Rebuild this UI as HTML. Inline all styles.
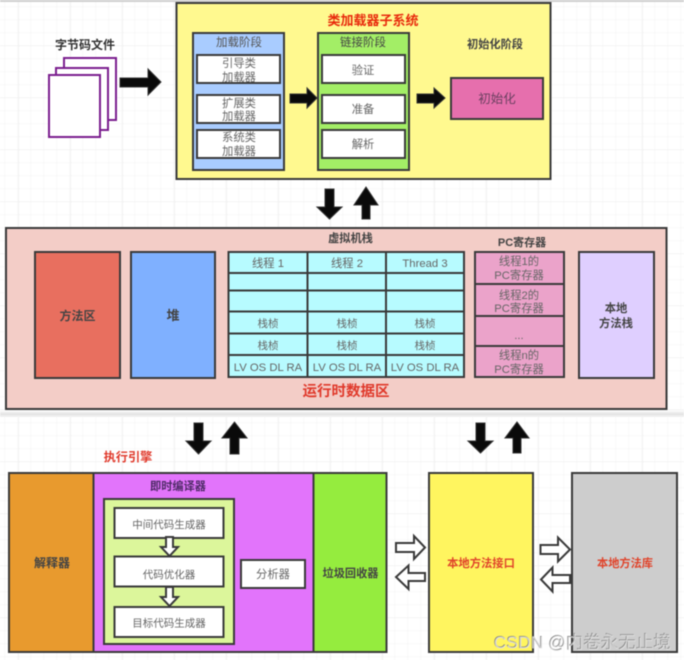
<!DOCTYPE html>
<html lang="zh">
<head>
<meta charset="utf-8">
<title>JVM</title>
<style>
html,body{margin:0;padding:0;background:#fff;width:684px;height:660px;overflow:hidden}
svg{display:block;filter:blur(.4px)}
text{font-family:"Liberation Sans","Noto Sans CJK SC",sans-serif;text-anchor:middle}
.box{stroke:#3a3a3a;stroke-width:2}
.t{font-size:11.3px;fill:#666}
.s{font-size:10.5px;fill:#666}
.l{font-size:11.3px;fill:#666}
.b{font-size:12px;font-weight:700;fill:#444}
.r{font-size:12px;font-weight:700;fill:#e0392b}
.hb{fill:#0a0a0a;stroke:#333;stroke-width:1}
.wa{fill:#fff;stroke:#3a3a3a;stroke-width:2}
</style>
</head>
<body>
<svg width="684" height="660" viewBox="0 0 684 660" xmlns="http://www.w3.org/2000/svg">
<defs>
<pattern id="g" width="13" height="13" patternUnits="userSpaceOnUse" x="5" y="7">
<path d="M13 0V13M0 13H13" stroke="#f3f3f3" stroke-width="1" fill="none"/>
</pattern>
<pattern id="G" width="52" height="52" patternUnits="userSpaceOnUse" x="19" y="46">
<path d="M52 0V52M0 52H52" stroke="#ebebeb" stroke-width="1" fill="none"/>
</pattern>
<linearGradient id="sh" x1="0" y1="0" x2="0" y2="1">
<stop offset="0" stop-color="#fff"/>
<stop offset=".6" stop-color="#e4e4e4"/>
<stop offset="1" stop-color="#f4f4f4"/>
</linearGradient>
</defs>
<rect width="684" height="660" fill="#fff"/>
<rect width="684" height="660" fill="url(#g)"/>
<rect width="684" height="660" fill="url(#G)"/>
<rect x="0" y="0" width="684" height="2" fill="#cfcfcf"/>
<rect x="0" y="410" width="684" height="7" fill="url(#sh)"/>

<!-- bytecode files -->
<text x="85" y="49" class="b" style="fill:#333">字节码文件</text>
<rect x="64" y="58" width="52" height="62" fill="#fff" stroke="#7b1e8e" stroke-width="2"/>
<rect x="56" y="68" width="52" height="62" fill="#fff" stroke="#7b1e8e" stroke-width="2"/>
<rect x="49" y="75" width="51" height="62" fill="#fff" stroke="#7b1e8e" stroke-width="2"/>
<polygon class="hb" points="120,78 148,78 148,69 161,82 148,95 148,87 120,87"/>

<!-- class loader subsystem -->
<rect class="box" x="176.500" y="3" width="374" height="176" fill="#fff98f"/>
<text x="373" y="25" class="r" style="fill:#e82a0c;font-size:13px">类加载器子系统</text>

<rect class="box" x="193" y="33" width="91" height="137" fill="#a9ccff"/>
<text x="239" y="46" class="l" style="fill:#555;font-size:11.5px">加载阶段</text>
<rect class="box" x="197" y="55" width="83" height="28" fill="#fff"/>
<text x="239" y="67" class="t">引导类</text><text x="239" y="81" class="t">加载器</text>
<rect class="box" x="197" y="95" width="83" height="28" fill="#fff"/>
<text x="239" y="107" class="t">扩展类</text><text x="239" y="120" class="t">加载器</text>
<rect class="box" x="197" y="130" width="83" height="28" fill="#fff"/>
<text x="239" y="141" class="t">系统类</text><text x="239" y="155" class="t">加载器</text>

<polygon class="hb" points="290,94 307,94 307,88 317,98 307,108 307,103 290,103"/>

<rect class="box" x="318" y="33" width="91" height="137" fill="#a3ee66"/>
<text x="363" y="46" class="l" style="fill:#444;font-size:11.5px">链接阶段</text>
<rect class="box" x="322" y="55" width="83" height="28" fill="#fff"/>
<text x="363" y="74" class="t">验证</text>
<rect class="box" x="322" y="95" width="83" height="28" fill="#fff"/>
<text x="363" y="113" class="t">准备</text>
<rect class="box" x="322" y="130" width="83" height="28" fill="#fff"/>
<text x="363" y="148" class="t">解析</text>

<polygon class="hb" points="417,94 434,94 434,88 445,98 434,108 434,103 417,103"/>

<text x="495" y="48" class="l" style="fill:#444;font-weight:700;font-size:11.2px">初始化阶段</text>
<rect class="box" x="451" y="78" width="92" height="41" fill="#e66fad"/>
<text x="497" y="103" class="l" style="fill:#6a4060;font-size:12.5px">初始化</text>

<!-- arrows top -->
<polygon class="hb" points="325,189 334,189 334,207 342,207 329.500,219 317,207 325,207"/>
<polygon class="hb" points="362,219 370,219 370,205 378,205 366,187 354,205 362,205"/>

<!-- runtime data area -->
<rect class="box" x="6" y="228" width="660.500" height="181" fill="#f3cdc7"/>
<rect class="box" x="35" y="252" width="85" height="126" fill="#e86f5f"/>
<text x="77.500" y="320" class="b">方法区</text>
<rect class="box" x="131" y="252" width="84" height="126" fill="#7fb0ff"/>
<text x="173" y="320" class="b" style="font-size:13px">堆</text>

<text x="350.500" y="242" class="l" style="font-size:11.2px;font-weight:700;fill:#444">虚拟机栈</text>

<rect class="box" x="228.500" y="252" width="235.500" height="125" fill="#b7fbff"/>
<path d="M307.500 252V377M386 252V377M228.500 273H464M228.500 290.500H464M228.500 311.500H464M228.500 333.500H464M228.500 355H464" stroke="#3a3a3a" stroke-width="2" fill="none"/>
<text x="268" y="267" class="l">线程 1</text>
<text x="347" y="267" class="l">线程 2</text>
<text x="425" y="267" class="l">Thread 3</text>
<text x="268" y="327" class="s">栈桢</text><text x="347" y="327" class="s">栈桢</text><text x="425" y="327" class="s">栈桢</text>
<text x="268" y="349" class="s">栈桢</text><text x="347" y="349" class="s">栈桢</text><text x="425" y="349" class="s">栈桢</text>
<text x="268" y="371" class="l">LV OS DL RA</text>
<text x="347" y="371" class="l">LV OS DL RA</text>
<text x="425" y="371" class="l">LV OS DL RA</text>

<text x="522" y="246" class="l" style="font-size:11px;font-weight:700;fill:#444">PC寄存器</text>
<rect class="box" x="475" y="252" width="89" height="125" fill="#eba3ca"/>
<path d="M475 284H564M475 316H564M475 346H564" stroke="#3a3a3a" stroke-width="2" fill="none"/>
<text x="519" y="265" class="t">线程1的</text><text x="519" y="279" class="t">PC寄存器</text>
<text x="519" y="299" class="t">线程2的</text><text x="519" y="312" class="t">PC寄存器</text>
<text x="519" y="339" class="t">...</text>
<text x="519" y="359" class="t">线程n的</text><text x="519" y="373" class="t">PC寄存器</text>

<rect class="box" x="579" y="252" width="75" height="126" fill="#dfcfff"/>
<text x="616" y="312" class="l" style="font-weight:700;font-size:11.300px;fill:#444">本地</text>
<text x="616" y="327" class="l" style="font-weight:700;font-size:11.300px;fill:#444">方法栈</text>

<text x="346" y="396" class="r" style="font-size:14.500px">运行时数据区</text>

<!-- arrows middle -->
<polygon class="hb" points="194,423 203,423 203,441 211,441 198.500,454 186,441 194,441"/>
<polygon class="hb" points="230,454 239,454 239,438 247,438 234.500,422 222,438 230,438"/>
<polygon class="hb" points="476,423 485,423 485,441 493,441 480.500,453 468,441 476,441"/>
<polygon class="hb" points="513,453 521,453 521,438 529,438 517,422 505,438 513,438"/>

<text x="128" y="461" class="r" style="font-size:12.200px">执行引擎</text>

<!-- execution engine -->
<rect class="box" x="9" y="473" width="84.500" height="179" fill="#e89a2e"/>
<text x="52" y="567" class="b" style="fill:#444">解释器</text>
<rect class="box" x="93.500" y="473" width="220" height="179" fill="#e274fb"/>
<text x="178" y="490" class="l" style="fill:#4d2a66;font-weight:700;font-size:11.2px">即时编译器</text>
<rect class="box" x="104" y="499" width="130" height="145" fill="#dcf69b"/>
<rect class="box" x="114.500" y="508" width="109" height="30" fill="#fff"/>
<text x="169" y="528" class="s">中间代码生成器</text>
<rect class="box" x="114.500" y="556.500" width="109" height="30" fill="#fff"/>
<text x="169" y="578" class="s">代码优化器</text>
<rect class="box" x="114.500" y="607" width="109" height="30" fill="#fff"/>
<text x="169" y="626.500" class="s">目标代码生成器</text>
<polygon class="wa" points="166,537 173,537 173,547 178,547 169.500,556 161,547 166,547"/>
<polygon class="wa" points="166,587 173,587 173,597 178,597 169.500,606 161,597 166,597"/>
<rect class="box" x="241" y="560" width="64" height="28" fill="#fff"/>
<text x="273" y="578" class="l">分析器</text>
<rect class="box" x="313.500" y="473" width="73" height="179" fill="#95ec3e"/>
<text x="350.500" y="577" class="l" style="fill:#444;font-weight:700;font-size:11.2px">垃圾回收器</text>

<!-- white side arrows -->
<polygon class="wa" points="396,543 414,543 414,536 425,547.500 414,559 414,552 396,552"/>
<polygon class="wa" points="425,573 408.500,573 408.500,565.500 396,577 408.500,589 408.500,581 425,581"/>
<polygon class="wa" points="540.500,545 558,545 558,537.500 570,549.500 558,561.500 558,554 540.500,554"/>
<polygon class="wa" points="570,575 552.500,575 552.500,567.500 541,579.500 552.500,591.500 552.500,583 570,583"/>

<rect class="box" x="429" y="473" width="104" height="179" fill="#fff55f"/>
<text x="481" y="567" class="r" style="font-size:11.300px;fill:#e0432a">本地方法接口</text>
<rect class="box" x="572" y="473" width="105" height="179" fill="#cdcdcd"/>
<text x="625" y="567" class="r" style="font-size:11.200px;fill:#e0432a">本地方法库</text>

<!-- watermark -->
<text x="582" y="648" style="font-size:17.500px;fill:#6f6f6f">CSDN @内卷永无止境</text>
<text x="582.500" y="648.500" style="font-size:17.500px;fill:#ededed;opacity:.75">CSDN @内卷永无止境</text>
</svg>
</body>
</html>
